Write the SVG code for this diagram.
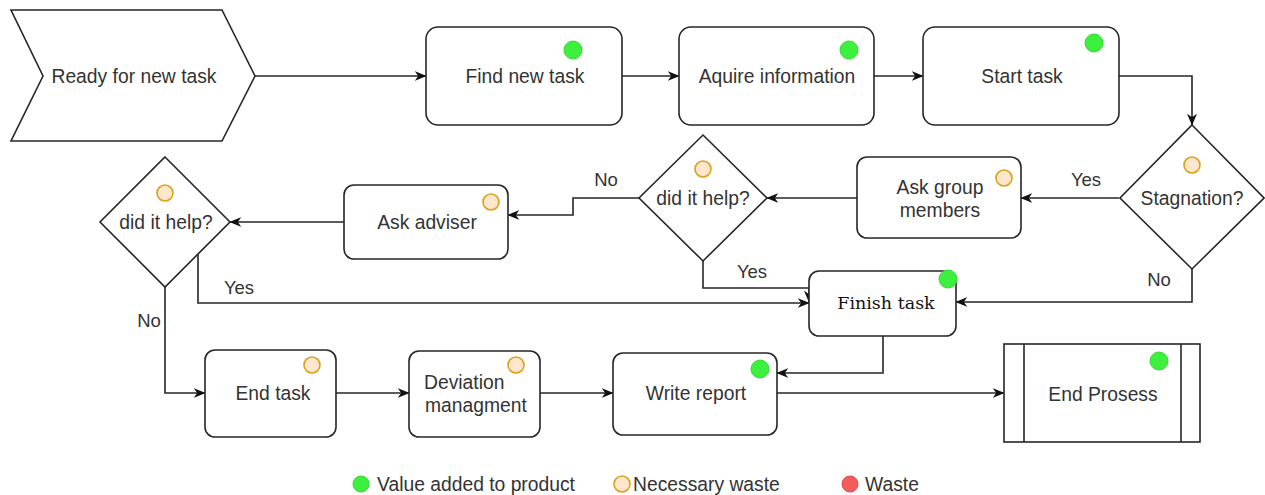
<svg xmlns="http://www.w3.org/2000/svg" width="1265" height="495" viewBox="0 0 1265 495">
  <defs>
    <style>
      .shape { fill: #ffffff; stroke: #262626; stroke-width: 1.6; }
      .lbl { font-family: "Liberation Sans", Arial, sans-serif; font-size: 19.3px; fill: #333333; text-anchor: middle; }
      .lbl-l { font-family: "Liberation Sans", Arial, sans-serif; font-size: 19.3px; fill: #333333; text-anchor: start; }
      .serif { font-family: "DejaVu Serif", "Liberation Serif", serif; font-size: 17.5px; fill: #111111; text-anchor: middle; }
      .edge { fill: none; stroke: #262626; stroke-width: 1.6; marker-end: url(#arrow); }
      .edge-label { font-family: "Liberation Sans", Arial, sans-serif; font-size: 18.5px; fill: #333333; text-anchor: middle; }
      .value { fill: #3ef03e; stroke: #35d835; stroke-width: 1; }
      .necessary { fill: #ffe6cc; stroke: #d9a11c; stroke-width: 1.6; }
      .waste { fill: #f45c5c; stroke: #e04a4a; stroke-width: 1; }
    </style>
    <marker id="arrow" viewBox="0 0 10 10" refX="9.5" refY="5" markerWidth="12" markerHeight="12" markerUnits="userSpaceOnUse" orient="auto">
      <path d="M0,0.8 L10,5 L0,9.2 L3,5 Z" fill="#111111"/>
    </marker>
  </defs>

  <rect x="0" y="0" width="1265" height="495" fill="#ffffff"/>

  <!-- connectors -->
  <g id="connectors">
    <path class="edge" d="M255,76 H426"/>
    <path class="edge" d="M622,76 H679"/>
    <path class="edge" d="M874,76 H923"/>
    <path class="edge" d="M1119,76 H1192 V125"/>
    <path class="edge" d="M1119,198 H1021"/>
    <path class="edge" d="M857,198 H767"/>
    <path class="edge" d="M639,198 H573 V215 H508"/>
    <path class="edge" d="M703,261 V288 H809 V302"/>
    <path class="edge" d="M198,254 V303 H809"/>
    <path class="edge" d="M1192,269 V302 H956"/>
    <path class="edge" d="M344,222 H230"/>
    <path class="edge" d="M165,287 V393 H205"/>
    <path class="edge" d="M336,393 H409"/>
    <path class="edge" d="M540,393 H613"/>
    <path class="edge" d="M883,336 V373 H777"/>
    <path class="edge" d="M777,393 H1004"/>
    <text class="edge-label" x="1086" y="186">Yes</text>
    <text class="edge-label" x="606" y="186">No</text>
    <text class="edge-label" x="752" y="278">Yes</text>
    <text class="edge-label" x="239" y="294">Yes</text>
    <text class="edge-label" x="1159" y="286">No</text>
    <text class="edge-label" x="149" y="327">No</text>
  </g>

  <!-- start event -->
  <g id="ready">
    <polygon class="shape" points="11,10 222,10 255,76 222,141 11,141 43,76"/>
    <text class="lbl" x="134" y="82.7">Ready for new task</text>
  </g>

  <g id="find-task">
    <rect class="shape" x="426" y="27" width="196" height="98" rx="12"/>
    <circle class="value" cx="573" cy="50" r="9"/>
    <text class="lbl" x="525" y="82.7">Find new task</text>
  </g>

  <g id="acquire-info">
    <rect class="shape" x="679" y="27" width="195" height="98" rx="12"/>
    <circle class="value" cx="849" cy="50" r="9"/>
    <text class="lbl" x="777" y="82.7">Aquire information</text>
  </g>

  <g id="start-task">
    <rect class="shape" x="923" y="27" width="196" height="98" rx="12"/>
    <circle class="value" cx="1094" cy="43" r="9"/>
    <text class="lbl" x="1022" y="82.7">Start task</text>
  </g>

  <g id="stagnation">
    <polygon class="shape" points="1192,125 1264,198 1192,269 1120,198"/>
    <circle class="necessary" cx="1192" cy="165" r="8"/>
    <text class="lbl" x="1192" y="204.7">Stagnation?</text>
  </g>

  <g id="ask-group">
    <rect class="shape" x="857" y="157" width="164" height="81" rx="10"/>
    <circle class="necessary" cx="1004" cy="178" r="8"/>
    <text class="lbl" x="940" y="194">Ask group</text>
    <text class="lbl" x="940" y="216.5">members</text>
  </g>

  <g id="helped-group">
    <polygon class="shape" points="703,135 767,198 703,261 639,198"/>
    <circle class="necessary" cx="703" cy="169" r="8"/>
    <text class="lbl" x="703" y="204.7">did it help?</text>
  </g>

  <g id="ask-adviser">
    <rect class="shape" x="344" y="185" width="164" height="74" rx="10"/>
    <circle class="necessary" cx="491" cy="202" r="8"/>
    <text class="lbl" x="427" y="229.4">Ask adviser</text>
  </g>

  <g id="helped-adviser">
    <polygon class="shape" points="165,157 230,222 165,287 100,222"/>
    <circle class="necessary" cx="165" cy="193" r="8"/>
    <text class="lbl" x="166" y="228.7">did it help?</text>
  </g>

  <g id="finish-task">
    <rect class="shape" x="809" y="271" width="147" height="65" rx="10"/>
    <circle class="value" cx="948" cy="279" r="9"/>
    <text class="serif" x="886" y="309">Finish task</text>
  </g>

  <g id="end-task">
    <rect class="shape" x="205" y="350" width="131" height="87" rx="10"/>
    <circle class="necessary" cx="312" cy="365" r="8"/>
    <text class="lbl" x="273" y="400">End task</text>
  </g>

  <g id="deviation">
    <rect class="shape" x="409" y="351" width="131" height="86" rx="10"/>
    <circle class="necessary" cx="516" cy="365" r="8"/>
    <text class="lbl-l" x="424" y="389">Deviation</text>
    <text class="lbl-l" x="425" y="411.5">managment</text>
  </g>

  <g id="write-report">
    <rect class="shape" x="613" y="353" width="164" height="82" rx="10"/>
    <circle class="value" cx="760" cy="369" r="9"/>
    <text class="lbl" x="696" y="400">Write report</text>
  </g>

  <g id="end-process">
    <rect class="shape" x="1004" y="344" width="196" height="98"/>
    <line x1="1024" y1="344" x2="1024" y2="442" stroke="#262626" stroke-width="1.6"/>
    <line x1="1181" y1="344" x2="1181" y2="442" stroke="#262626" stroke-width="1.6"/>
    <circle class="value" cx="1159" cy="361" r="9"/>
    <text class="lbl" x="1103" y="400.5">End Prosess</text>
  </g>

  <!-- legend -->
  <g id="legend">
    <circle class="value" cx="361" cy="484" r="8"/>
    <text class="lbl-l" x="377" y="490.7">Value added to product</text>
    <circle class="necessary" cx="622" cy="484" r="8"/>
    <text class="lbl-l" x="633" y="490.7">Necessary waste</text>
    <circle class="waste" cx="850" cy="484" r="8"/>
    <text class="lbl-l" x="865" y="490.7">Waste</text>
  </g>
</svg>
